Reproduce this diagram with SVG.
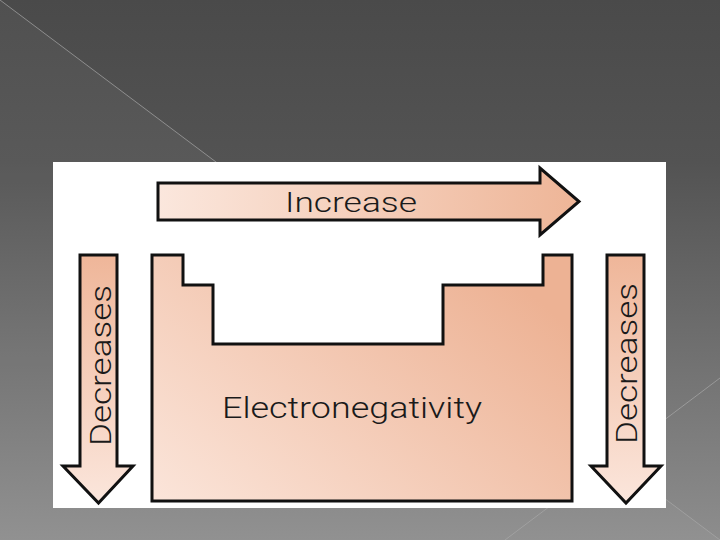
<svg xmlns="http://www.w3.org/2000/svg" width="720" height="540" viewBox="0 0 720 540">
  <defs>
    <linearGradient id="bg" x1="0" y1="0" x2="0" y2="1">
      <stop offset="0" stop-color="#4a4a4a"/>
      <stop offset="0.3" stop-color="#535353"/>
      <stop offset="1" stop-color="#8d8d8d"/>
    </linearGradient>
    <linearGradient id="horiz" x1="0" y1="0" x2="1" y2="0">
      <stop offset="0" stop-color="#fbe7dd"/>
      <stop offset="1" stop-color="#eeb597"/>
    </linearGradient>
    <linearGradient id="table" x1="0" y1="1" x2="1" y2="0.3">
      <stop offset="0" stop-color="#fbe5da"/>
      <stop offset="1" stop-color="#edb294"/>
    </linearGradient>
    <linearGradient id="vert" x1="0" y1="0" x2="0" y2="1">
      <stop offset="0" stop-color="#efb699"/>
      <stop offset="1" stop-color="#fbe6dc"/>
    </linearGradient>
    <style>
      .shape { stroke: #111; stroke-width: 3; stroke-linejoin: miter; }
      .lbl { font-family: Roboto, "Liberation Sans", Arial, sans-serif; font-weight: 300; fill: #1a1a1a; }
      .deco { stroke: #a8a8a8; stroke-width: 1; fill: none; opacity: 0.7; }
    </style>
  </defs>

  <!-- background -->
  <rect x="0" y="0" width="720" height="540" fill="url(#bg)"/>
  <polygon points="0,0 720,540 0,540" fill="#ffffff" opacity="0.035"/>
  <line class="deco" x1="0" y1="0" x2="720" y2="540"/>
  <line class="deco" x1="505" y1="540" x2="720" y2="378"/>

  <!-- panel -->
  <rect x="53" y="162" width="613" height="346" fill="#ffffff"/>

  <g id="table-shape">
    <path class="shape" fill="url(#table)" d="M152,255 H183 V285 H213 V344 H443 V285 H543 V255 H572 V501 H152 Z"/>
    <text class="lbl" x="222" y="418" font-size="30" textLength="260" lengthAdjust="spacingAndGlyphs">Electronegativity</text>
  </g>

  <g id="arrow-increase">
    <path class="shape" fill="url(#horiz)" d="M158,183 H540 V168 L579,201.5 L540,235 V220 H158 Z"/>
    <text class="lbl" x="285" y="212" font-size="28" textLength="132" lengthAdjust="spacingAndGlyphs">Increase</text>
  </g>

  <g id="arrow-decreases-left">
    <path class="shape" fill="url(#vert)" d="M80,255 H117 V466 H133 L98.5,503 L63,466 H80 Z"/>
    <text class="lbl" transform="translate(111,446) rotate(-90)" font-size="30" textLength="161" lengthAdjust="spacingAndGlyphs">Decreases</text>
  </g>

  <g id="arrow-decreases-right">
    <path class="shape" fill="url(#vert)" d="M607,255 H644 V466 H661 L626,503 L591,466 H607 Z"/>
    <text class="lbl" transform="translate(637,444) rotate(-90)" font-size="30" textLength="161" lengthAdjust="spacingAndGlyphs">Decreases</text>
  </g>
</svg>
